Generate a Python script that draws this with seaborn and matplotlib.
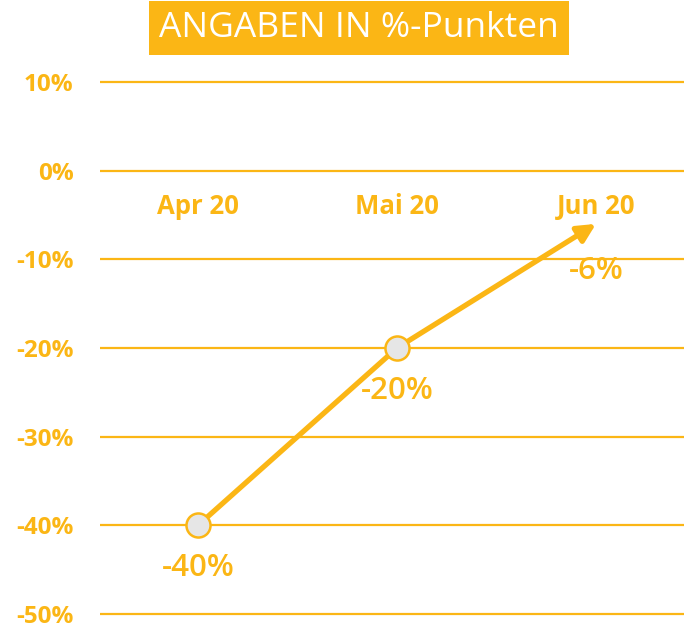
import matplotlib
matplotlib.use("Agg")
import matplotlib.pyplot as plt
import seaborn as sns
import pandas as pd

categories = ["Apr 20", "Mai 20", "Jun 20"]
values = [-40, -20, -6]
value_labels = ["-40%", "-20%", "-6%"]
yticks = [10, 0, -10, -20, -30, -40, -50]
ytick_labels = ["10%", "0%", "-10%", "-20%", "-30%", "-40%", "-50%"]
title = "ANGABEN IN %-Punkten"

ORANGE = "#FBB615"

sns.set_theme(style="white")
plt.rcParams["font.family"] = ["Open Sans", "DejaVu Sans"]

fig = plt.figure(figsize=(6.84, 6.28), dpi=100)
ax = fig.add_axes([100/684, 9.6/628, 584/684, (618.4-77.6)/628])

df = pd.DataFrame({"x": range(len(categories)), "y": values, "cat": categories})

# gridlines
for t in yticks:
    ax.axhline(t, color=ORANGE, lw=1.6, zorder=1)

# line segment Apr -> Mai
sns.lineplot(data=df.iloc[:2], x="x", y="y", ax=ax, color=ORANGE, lw=3.8,
             zorder=3, legend=False)
# arrow Mai -> Jun
ax.annotate("", xy=(df.x[2], df.y[2]), xytext=(df.x[1], df.y[1]),
            arrowprops=dict(arrowstyle="-|>,head_length=0.9,head_width=0.45",
                            color=ORANGE, lw=3.8, shrinkA=0, shrinkB=0),
            zorder=3)
# markers
sns.scatterplot(data=df.iloc[:2], x="x", y="y", ax=ax, s=300, color="#E6E6E6",
                edgecolor=ORANGE, linewidth=1.8, zorder=4, legend=False)

# value labels
n = len(values)
for i, (v, lab) in enumerate(zip(values, value_labels)):
    off = -31 if i < n - 1 else -34
    ax.annotate(lab, xy=(i, v), xytext=(0, off), textcoords="offset points",
                ha="center", va="center", fontsize=22.5, color=ORANGE,
                fontweight="semibold")

# category labels
for i, c in enumerate(categories):
    ax.text(i, -4, c, ha="center", va="center", fontsize=18.5, color=ORANGE,
            fontweight="bold")

ax.set_xlim(-98/199, 2 + 88/199)
ax.set_ylim(-50.5, 10.5)
ax.set_yticks(yticks)
ax.set_yticklabels(ytick_labels)
ax.tick_params(axis="y", length=0, pad=19, labelsize=17.5, labelcolor=ORANGE)
for lbl in ax.get_yticklabels():
    lbl.set_fontweight("bold")
ax.set_xticks([])
ax.set_xlabel("")
ax.set_ylabel("")
for s in ax.spines.values():
    s.set_visible(False)

fig.text(359/684, 1 - 28/628, title, ha="center", va="center", fontsize=25.5,
         color="white",
         bbox=dict(boxstyle="square,pad=0.28", facecolor=ORANGE, edgecolor="none"))

fig.savefig("out.png", dpi=100)
